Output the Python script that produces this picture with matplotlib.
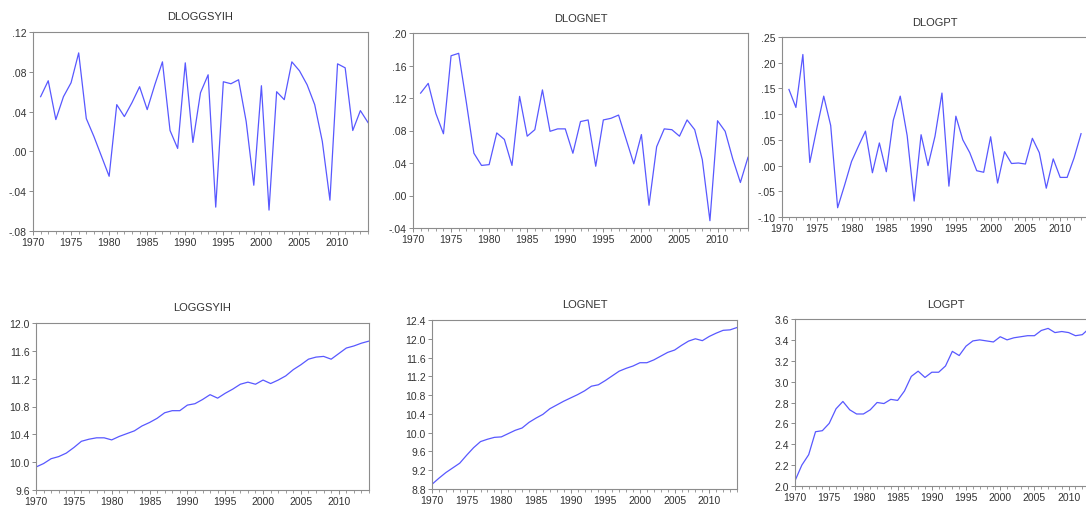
# ══════════════════════════════════════════════════════════════════════════════
#  EViews-style 2x3 panel: log levels and first differences
# ══════════════════════════════════════════════════════════════════════════════

import numpy as np
import matplotlib.pyplot as plt
from matplotlib.ticker import FuncFormatter, MultipleLocator

# ── Data ──────────────────────────────────────────────────────────────────────
years_lvl = list(range(1970, 2015))
years_d = list(range(1971, 2015))
years_pt_lvl = list(range(1970, 2014))
years_pt_d = list(range(1971, 2014))

dloggsyih = [
    .055, .071, .032, .055, .069, .099, .033, .015, -.005, -.025,
    .047, .035, .049, .065, .042, .067, .090, .021, .003, .089,
    .009, .059, .077, -.056, .070, .068, .072, .030, -.034, .066,
    -.059, .060, .052, .090, .081, .067, .047, .010, -.049, .088,
    .084, .021, .041, .029,
]
dlognet = [
    .126, .138, .101, .076, .172, .175, .115, .052, .037, .038,
    .077, .069, .037, .122, .073, .081, .130, .079, .082, .082,
    .052, .091, .093, .036, .093, .095, .099, .069, .039, .075,
    -.012, .060, .082, .081, .073, .093, .081, .044, -.031, .092,
    .079, .045, .016, .047,
]
dlogpt = [
    .148, .113, .216, .006, .072, .135, .078, -.082, -.038, .008,
    .038, .067, -.014, .044, -.012, .088, .135, .058, -.069, .060,
    .000, .057, .141, -.040, .096, .050, .025, -.010, -.013, .056,
    -.034, .027, .004, .005, .003, .053, .025, -.044, .013, -.023,
    -.023, .015, .062,
]

loggsyih = [
    9.93, 9.98, 10.05, 10.08, 10.13, 10.21, 10.30, 10.33, 10.35, 10.35,
    10.32, 10.37, 10.41, 10.45, 10.52, 10.57, 10.63, 10.71, 10.74, 10.74,
    10.82, 10.84, 10.90, 10.97, 10.92, 10.99, 11.05, 11.12, 11.15, 11.12,
    11.18, 11.13, 11.18, 11.24, 11.33, 11.40, 11.48, 11.51, 11.52, 11.48,
    11.56, 11.64, 11.67, 11.71, 11.74,
]
lognet = [
    8.90, 9.03, 9.15, 9.25, 9.35, 9.52, 9.68, 9.81, 9.86, 9.90,
    9.91, 9.98, 10.05, 10.10, 10.22, 10.31, 10.39, 10.51, 10.59, 10.67,
    10.74, 10.81, 10.89, 10.99, 11.02, 11.11, 11.21, 11.31, 11.37, 11.42,
    11.49, 11.49, 11.55, 11.63, 11.71, 11.76, 11.86, 11.95, 12.00, 11.96,
    12.05, 12.12, 12.18, 12.19, 12.24,
]
logpt = [
    2.05, 2.20, 2.30, 2.52, 2.53, 2.60, 2.74, 2.81, 2.73, 2.69,
    2.69, 2.73, 2.80, 2.79, 2.83, 2.82, 2.91, 3.05, 3.10, 3.04,
    3.09, 3.09, 3.15, 3.29, 3.25, 3.34, 3.39, 3.40, 3.39, 3.38,
    3.43, 3.40, 3.42, 3.43, 3.44, 3.44, 3.49, 3.51, 3.47, 3.48,
    3.47, 3.44, 3.45, 3.51,
]

# ── Style ─────────────────────────────────────────────────────────────────────
line_color = "#5858ff"
spine_color = "#8c8c8c"
text_color = "#333333"

plt.rcParams.update({
    "font.family": ["Liberation Sans", "DejaVu Sans"],
    "font.size": 7.5,
    "xtick.color": spine_color,
    "ytick.color": spine_color,
    "xtick.labelcolor": text_color,
    "ytick.labelcolor": text_color,
})

W, H = 1086, 510
fig = plt.figure(figsize=(W / 100, H / 100), dpi=100)
fig.patch.set_facecolor("white")


def _px_axes(left, right, top, bottom):
    """Axes placed by pixel edges (origin top-left)."""
    return fig.add_axes([left / W, 1 - bottom / H, (right - left) / W, (bottom - top) / H])


def _eviews_fmt(decimals):
    def f(v, _):
        s = f"{v:.{decimals}f}"
        if s.startswith("0."):
            s = s[1:]
        elif s.startswith("-0."):
            s = "-" + s[2:]
        return s
    return FuncFormatter(f)


def _panel(box, x, y, title, ylim, ystep, decimals, xmax=2014):
    ax = _px_axes(*box)
    ax.plot(x, y, color=line_color, lw=0.9)
    ax.set_xlim(1970, xmax)
    ax.set_ylim(*ylim)
    ax.yaxis.set_major_locator(MultipleLocator(ystep))
    ax.yaxis.set_major_formatter(_eviews_fmt(decimals))
    ax.xaxis.set_major_locator(MultipleLocator(5))
    ax.xaxis.set_minor_locator(MultipleLocator(1))
    for sp in ax.spines.values():
        sp.set_color(spine_color)
        sp.set_linewidth(0.8)
    ax.tick_params(axis="both", which="major", direction="out", length=3, width=0.7, pad=1.5)
    ax.tick_params(axis="x", which="minor", direction="out", length=2, width=0.6)
    ax.set_title(title, fontsize=8, color=text_color, pad=9)
    return ax


# ── Top row: first differences ───────────────────────────────────────────────
_panel((33, 368, 33, 232), years_d, dloggsyih, "DLOGGSYIH", (-0.08, 0.12), 0.04, 2)
_panel((413, 748, 34, 229), years_d, dlognet, "DLOGNET", (-0.04, 0.20), 0.04, 2)
_panel((782, 1088, 38, 218), years_pt_d, dlogpt, "DLOGPT", (-0.10, 0.25), 0.05, 2)

# ── Bottom row: log levels ────────────────────────────────────────────────────
_panel((36, 369, 324, 491), years_lvl, loggsyih, "LOGGSYIH", (9.6, 12.0), 0.4, 1)
_panel((432, 737, 321, 490), years_lvl, lognet, "LOGNET", (8.8, 12.4), 0.4, 1)
_panel((795, 1096, 320, 487), years_pt_lvl, logpt, "LOGPT", (2.0, 3.6), 0.2, 1)

fig.savefig("out.png", dpi=100, facecolor="white")
